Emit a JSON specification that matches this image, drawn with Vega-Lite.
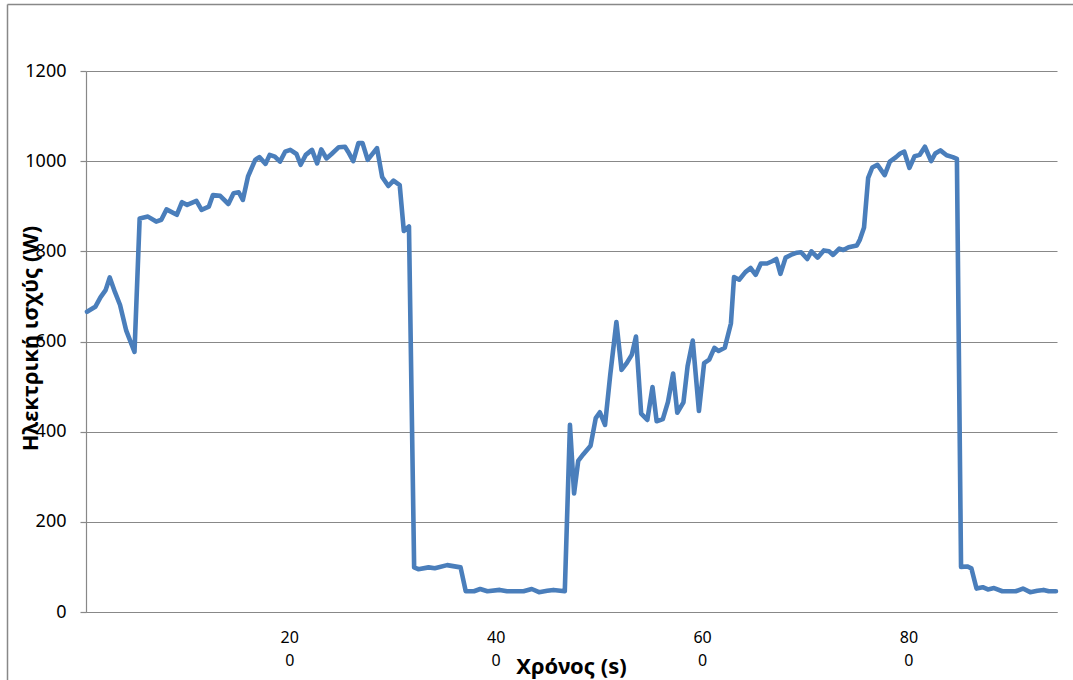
{
  "$schema": "https://vega.github.io/schema/vega-lite/v6.json",
  "autosize": "none",
  "width": 971,
  "height": 541,
  "padding": {"left": 86, "top": 71, "right": 16, "bottom": 68},
  "background": "white",
  "config": {
    "font": "Noto Sans",
    "view": {"stroke": null},
    "axis": {"labelColor": "#000000", "titleColor": "#000000", "domainColor": "#888888", "tickColor": "#888888", "gridColor": "#888888"}
  },
  "data": {
    "values": [
      {"t": 4, "p": 666}, {"t": 12, "p": 677}, {"t": 17, "p": 698}, {"t": 22, "p": 714}, {"t": 26, "p": 742},
      {"t": 31, "p": 710}, {"t": 36, "p": 681}, {"t": 42, "p": 624}, {"t": 50, "p": 577}, {"t": 55, "p": 873},
      {"t": 63, "p": 877}, {"t": 71, "p": 866}, {"t": 76, "p": 870}, {"t": 81, "p": 893}, {"t": 91, "p": 881},
      {"t": 96, "p": 909}, {"t": 101, "p": 903}, {"t": 110, "p": 912}, {"t": 115, "p": 892}, {"t": 122, "p": 899},
      {"t": 126, "p": 925}, {"t": 133, "p": 923}, {"t": 141, "p": 905}, {"t": 146, "p": 929}, {"t": 151, "p": 931},
      {"t": 155, "p": 914}, {"t": 160, "p": 966}, {"t": 167, "p": 1003}, {"t": 171, "p": 1009}, {"t": 177, "p": 994},
      {"t": 181, "p": 1014}, {"t": 186, "p": 1010}, {"t": 191, "p": 999}, {"t": 196, "p": 1021}, {"t": 201, "p": 1025},
      {"t": 207, "p": 1016}, {"t": 211, "p": 992}, {"t": 216, "p": 1014}, {"t": 222, "p": 1025}, {"t": 227, "p": 995},
      {"t": 231, "p": 1026}, {"t": 236, "p": 1006}, {"t": 241, "p": 1016}, {"t": 248, "p": 1031}, {"t": 254, "p": 1032},
      {"t": 257, "p": 1021}, {"t": 262, "p": 1000}, {"t": 267, "p": 1040}, {"t": 271, "p": 1040}, {"t": 276, "p": 1003},
      {"t": 285, "p": 1029}, {"t": 290, "p": 965}, {"t": 296, "p": 945}, {"t": 301, "p": 957}, {"t": 307, "p": 947},
      {"t": 311, "p": 845}, {"t": 316, "p": 855}, {"t": 321, "p": 99}, {"t": 325, "p": 95}, {"t": 335, "p": 99},
      {"t": 341, "p": 97}, {"t": 353, "p": 104}, {"t": 366, "p": 99}, {"t": 371, "p": 46}, {"t": 379, "p": 46},
      {"t": 385, "p": 51}, {"t": 392, "p": 46}, {"t": 404, "p": 49}, {"t": 411, "p": 46}, {"t": 427, "p": 46},
      {"t": 435, "p": 51}, {"t": 442, "p": 44}, {"t": 450, "p": 47}, {"t": 456, "p": 49}, {"t": 467, "p": 46},
      {"t": 472, "p": 415}, {"t": 476, "p": 263}, {"t": 480, "p": 335}, {"t": 485, "p": 350}, {"t": 492, "p": 369},
      {"t": 497, "p": 430}, {"t": 501, "p": 443}, {"t": 506, "p": 415}, {"t": 511, "p": 525}, {"t": 517, "p": 643},
      {"t": 522, "p": 537}, {"t": 527, "p": 552}, {"t": 532, "p": 571}, {"t": 536, "p": 611}, {"t": 541, "p": 440},
      {"t": 547, "p": 426}, {"t": 552, "p": 499}, {"t": 556, "p": 423}, {"t": 562, "p": 428}, {"t": 567, "p": 466},
      {"t": 572, "p": 529}, {"t": 576, "p": 442}, {"t": 582, "p": 465}, {"t": 586, "p": 545}, {"t": 591, "p": 602},
      {"t": 597, "p": 446}, {"t": 602, "p": 552}, {"t": 607, "p": 560}, {"t": 612, "p": 586}, {"t": 616, "p": 579},
      {"t": 622, "p": 586}, {"t": 628, "p": 640}, {"t": 631, "p": 743}, {"t": 636, "p": 737}, {"t": 642, "p": 754},
      {"t": 647, "p": 763}, {"t": 652, "p": 748}, {"t": 657, "p": 773}, {"t": 663, "p": 773}, {"t": 668, "p": 778},
      {"t": 672, "p": 783}, {"t": 676, "p": 750}, {"t": 681, "p": 786}, {"t": 686, "p": 792}, {"t": 692, "p": 797},
      {"t": 696, "p": 798}, {"t": 702, "p": 783}, {"t": 706, "p": 800}, {"t": 712, "p": 786}, {"t": 718, "p": 802},
      {"t": 723, "p": 800}, {"t": 727, "p": 792}, {"t": 733, "p": 806}, {"t": 737, "p": 803}, {"t": 742, "p": 809},
      {"t": 750, "p": 813}, {"t": 753, "p": 826}, {"t": 757, "p": 853}, {"t": 761, "p": 963}, {"t": 765, "p": 986},
      {"t": 770, "p": 992}, {"t": 777, "p": 969}, {"t": 782, "p": 999}, {"t": 788, "p": 1009}, {"t": 792, "p": 1017},
      {"t": 796, "p": 1021}, {"t": 801, "p": 985}, {"t": 806, "p": 1011}, {"t": 811, "p": 1014}, {"t": 816, "p": 1032},
      {"t": 822, "p": 1000}, {"t": 826, "p": 1017}, {"t": 831, "p": 1024}, {"t": 837, "p": 1013}, {"t": 843, "p": 1009},
      {"t": 847, "p": 1005}, {"t": 851, "p": 100}, {"t": 857, "p": 101}, {"t": 861, "p": 97}, {"t": 866, "p": 52},
      {"t": 872, "p": 55}, {"t": 877, "p": 50}, {"t": 883, "p": 53}, {"t": 891, "p": 46}, {"t": 904, "p": 46},
      {"t": 911, "p": 52}, {"t": 918, "p": 44}, {"t": 925, "p": 47}, {"t": 931, "p": 49}, {"t": 936, "p": 46},
      {"t": 943, "p": 46}
    ]
  },
  "layer": [
    {
      "mark": {"type": "rule", "opacity": 0},
      "encoding": {
        "x": {
          "datum": 0,
          "type": "quantitative",
          "scale": {"domain": [0, 1], "range": [-79, 990], "nice": false},
          "axis": {"orient": "top", "offset": 67, "labels": false, "ticks": false, "grid": false, "title": null, "domainColor": "#888888", "domainWidth": 1.5}
        },
        "y": {
          "datum": 0,
          "type": "quantitative",
          "scale": {"domain": [0, 1], "range": [676, -67], "nice": false},
          "axis": {"orient": "left", "offset": 79, "labels": false, "ticks": false, "grid": false, "title": null, "domainColor": "#888888", "domainWidth": 1.5}
        }
      }
    },
    {
      "mark": {"type": "line", "color": "#4a7ebb", "strokeWidth": 4.6, "strokeJoin": "round", "strokeCap": "round"},
      "encoding": {
        "x": {
          "field": "t",
          "type": "quantitative",
          "scale": {"domain": [3, 944], "nice": false, "zero": false},
          "axis": {
            "orient": "bottom",
            "values": [200, 400, 600, 800],
            "format": "d",
            "labelExpr": "[substring(datum.label, 0, 2), substring(datum.label, 2)]",
            "grid": false,
            "ticks": false,
            "tickSize": 0,
            "labelFontSize": 16,
            "labelBaseline": "top",
            "labelLineHeight": 23.4,
            "labelPadding": 17,
            "title": "Χρόνος (s)",
            "titleFontSize": 22,
            "titleFontWeight": "bold",
            "titleX": 485,
            "titleY": 61,
            "titleAlign": "center",
            "titleBaseline": "alphabetic",
            "domainWidth": 1.2
          }
        },
        "y": {
          "field": "p",
          "type": "quantitative",
          "scale": {"domain": [0, 1200], "nice": false},
          "axis": {
            "orient": "left",
            "values": [0, 200, 400, 600, 800, 1000, 1200],
            "format": "d",
            "grid": true,
            "gridWidth": 1.2,
            "tickSize": 6,
            "tickWidth": 1.2,
            "domainWidth": 1.2,
            "labelFontSize": 18,
            "labelPadding": 14,
            "title": "Ηλεκτρική ισχύς (W)",
            "titleFontSize": 22,
            "titleFontWeight": "bold",
            "titleAngle": 270,
            "titleX": -49,
            "titleY": 267,
            "titleAlign": "center",
            "titleBaseline": "alphabetic"
          }
        }
      }
    }
  ],
  "resolve": {"scale": {"x": "independent", "y": "independent"}, "axis": {"x": "independent", "y": "independent"}}
}
